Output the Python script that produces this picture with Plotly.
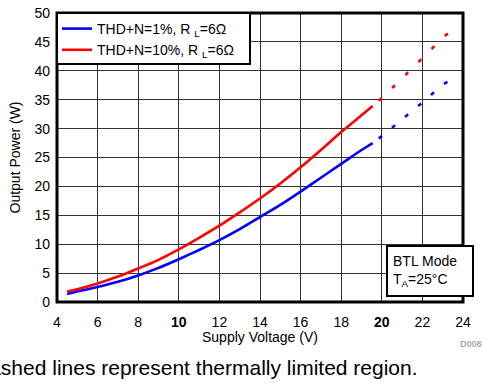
import plotly.graph_objects as go

# Supply voltage (V) for the solid (normal) region
v_solid = [4.5, 5, 6, 7, 8, 9, 10, 11, 12, 13, 14, 15, 16, 17, 18, 19, 19.55]
p10_solid = [1.8, 2.2, 3.2, 4.4, 5.8, 7.3, 9.1, 11.1, 13.2, 15.5, 17.9, 20.5, 23.3, 26.3, 29.4, 32.3, 33.9]
p1_solid = [1.4, 1.8, 2.6, 3.5, 4.6, 5.9, 7.4, 9.0, 10.7, 12.6, 14.7, 16.8, 19.1, 21.5, 23.9, 26.3, 27.5]

# Thermally limited region (dashed)
v_dash = [19.85, 20, 21, 22, 23, 23.4]
p10_dash = [34.8, 35.3, 38.7, 42.2, 45.7, 46.9]
p1_dash = [28.3, 28.7, 31.6, 34.5, 37.6, 38.4]

x_ticks = [4, 6, 8, 10, 12, 14, 16, 18, 20, 22, 24]
x_ticktext = ["4", "6", "8", "<b>10</b>", "12", "14", "16", "18", "<b>20</b>", "22", "24"]
y_ticks = [0, 5, 10, 15, 20, 25, 30, 35, 40, 45, 50]

BLUE = "#0000ff"
RED = "#ff0000"
FONT = "Liberation Sans, Arial, Helvetica, sans-serif"

fig = go.Figure()
fig.add_trace(go.Scatter(x=v_solid, y=p1_solid, mode="lines",
                         line=dict(color=BLUE, width=2.6, shape="spline", smoothing=0.6),
                         name="THD+N=1%, R <sub>L</sub>=6Ω"))
fig.add_trace(go.Scatter(x=v_solid, y=p10_solid, mode="lines",
                         line=dict(color=RED, width=2.6, shape="spline", smoothing=0.6),
                         name="THD+N=10%, R <sub>L</sub>=6Ω"))
fig.add_trace(go.Scatter(x=v_dash, y=p1_dash, mode="lines", showlegend=False,
                         line=dict(color=BLUE, width=2.6, dash="4px,13px")))
fig.add_trace(go.Scatter(x=v_dash, y=p10_dash, mode="lines", showlegend=False,
                         line=dict(color=RED, width=2.6, dash="4px,14.5px")))

fig.update_layout(
    width=483, height=386,
    margin=dict(l=57, r=20, t=13, b=84, autoexpand=False),
    paper_bgcolor="white", plot_bgcolor="white",
    font=dict(family=FONT, size=14, color="black"),
    legend=dict(x=0, y=1, xanchor="left", yanchor="top",
                bgcolor="rgba(0,0,0,0)", borderwidth=0,
                font=dict(size=14), itemwidth=30, tracegroupgap=0),
    xaxis=dict(range=[4, 24], tickvals=x_ticks, ticktext=x_ticktext,
               showgrid=True, gridcolor="#333", gridwidth=1, zeroline=False,
               ticks="", ticklabelstandoff=10, automargin=False),
    yaxis=dict(range=[0, 50], tickvals=y_ticks,
               showgrid=True, gridcolor="#333", gridwidth=1, zeroline=False,
               ticks="", ticklabelstandoff=6, automargin=False),
    shapes=[
        dict(type="rect", xref="paper", yref="paper", x0=0, x1=1, y0=0, y1=1,
             line=dict(color="black", width=3), layer="above"),
        # legend frame
        dict(type="rect", xref="paper", yref="paper", x0=0, x1=0.4754, y0=0.8235, y1=1,
             line=dict(color="black", width=2), fillcolor="white", layer="above"),
    ],
    annotations=[
        dict(xref="paper", yref="paper", x=0.5, y=-0.121, xanchor="center", yanchor="middle",
             text="Supply Voltage (V)", showarrow=False, font=dict(size=14)),
        dict(xref="paper", yref="paper", x=-0.1059, y=0.5, xanchor="center", yanchor="middle",
             text="Output Power (W)", textangle=-90, showarrow=False, font=dict(size=14)),
        dict(xref="paper", yref="paper", x=0.9187, y=0.1073, xanchor="center", yanchor="middle",
             text="BTL Mode<br>T<sub>A</sub>=25°C", align="left", showarrow=False,
             width=74, height=38, borderpad=5, bordercolor="black", borderwidth=2,
             bgcolor="white", font=dict(size=14)),
        dict(xref="paper", yref="paper", x=0.893, y=-0.228, xanchor="right", yanchor="middle",
             text="Dashed lines represent thermally limited region.", showarrow=False,
             font=dict(size=21)),
        dict(xref="paper", yref="paper", x=0.988, y=-0.145, xanchor="left", yanchor="middle",
             text="<b>D008</b>", showarrow=False, font=dict(size=9, color="#aaaaaa")),
    ],
)

fig.write_html("out.html", config={"displayModeBar": False},
               post_script="document.body.style.margin='0';document.body.style.overflow='hidden';")
